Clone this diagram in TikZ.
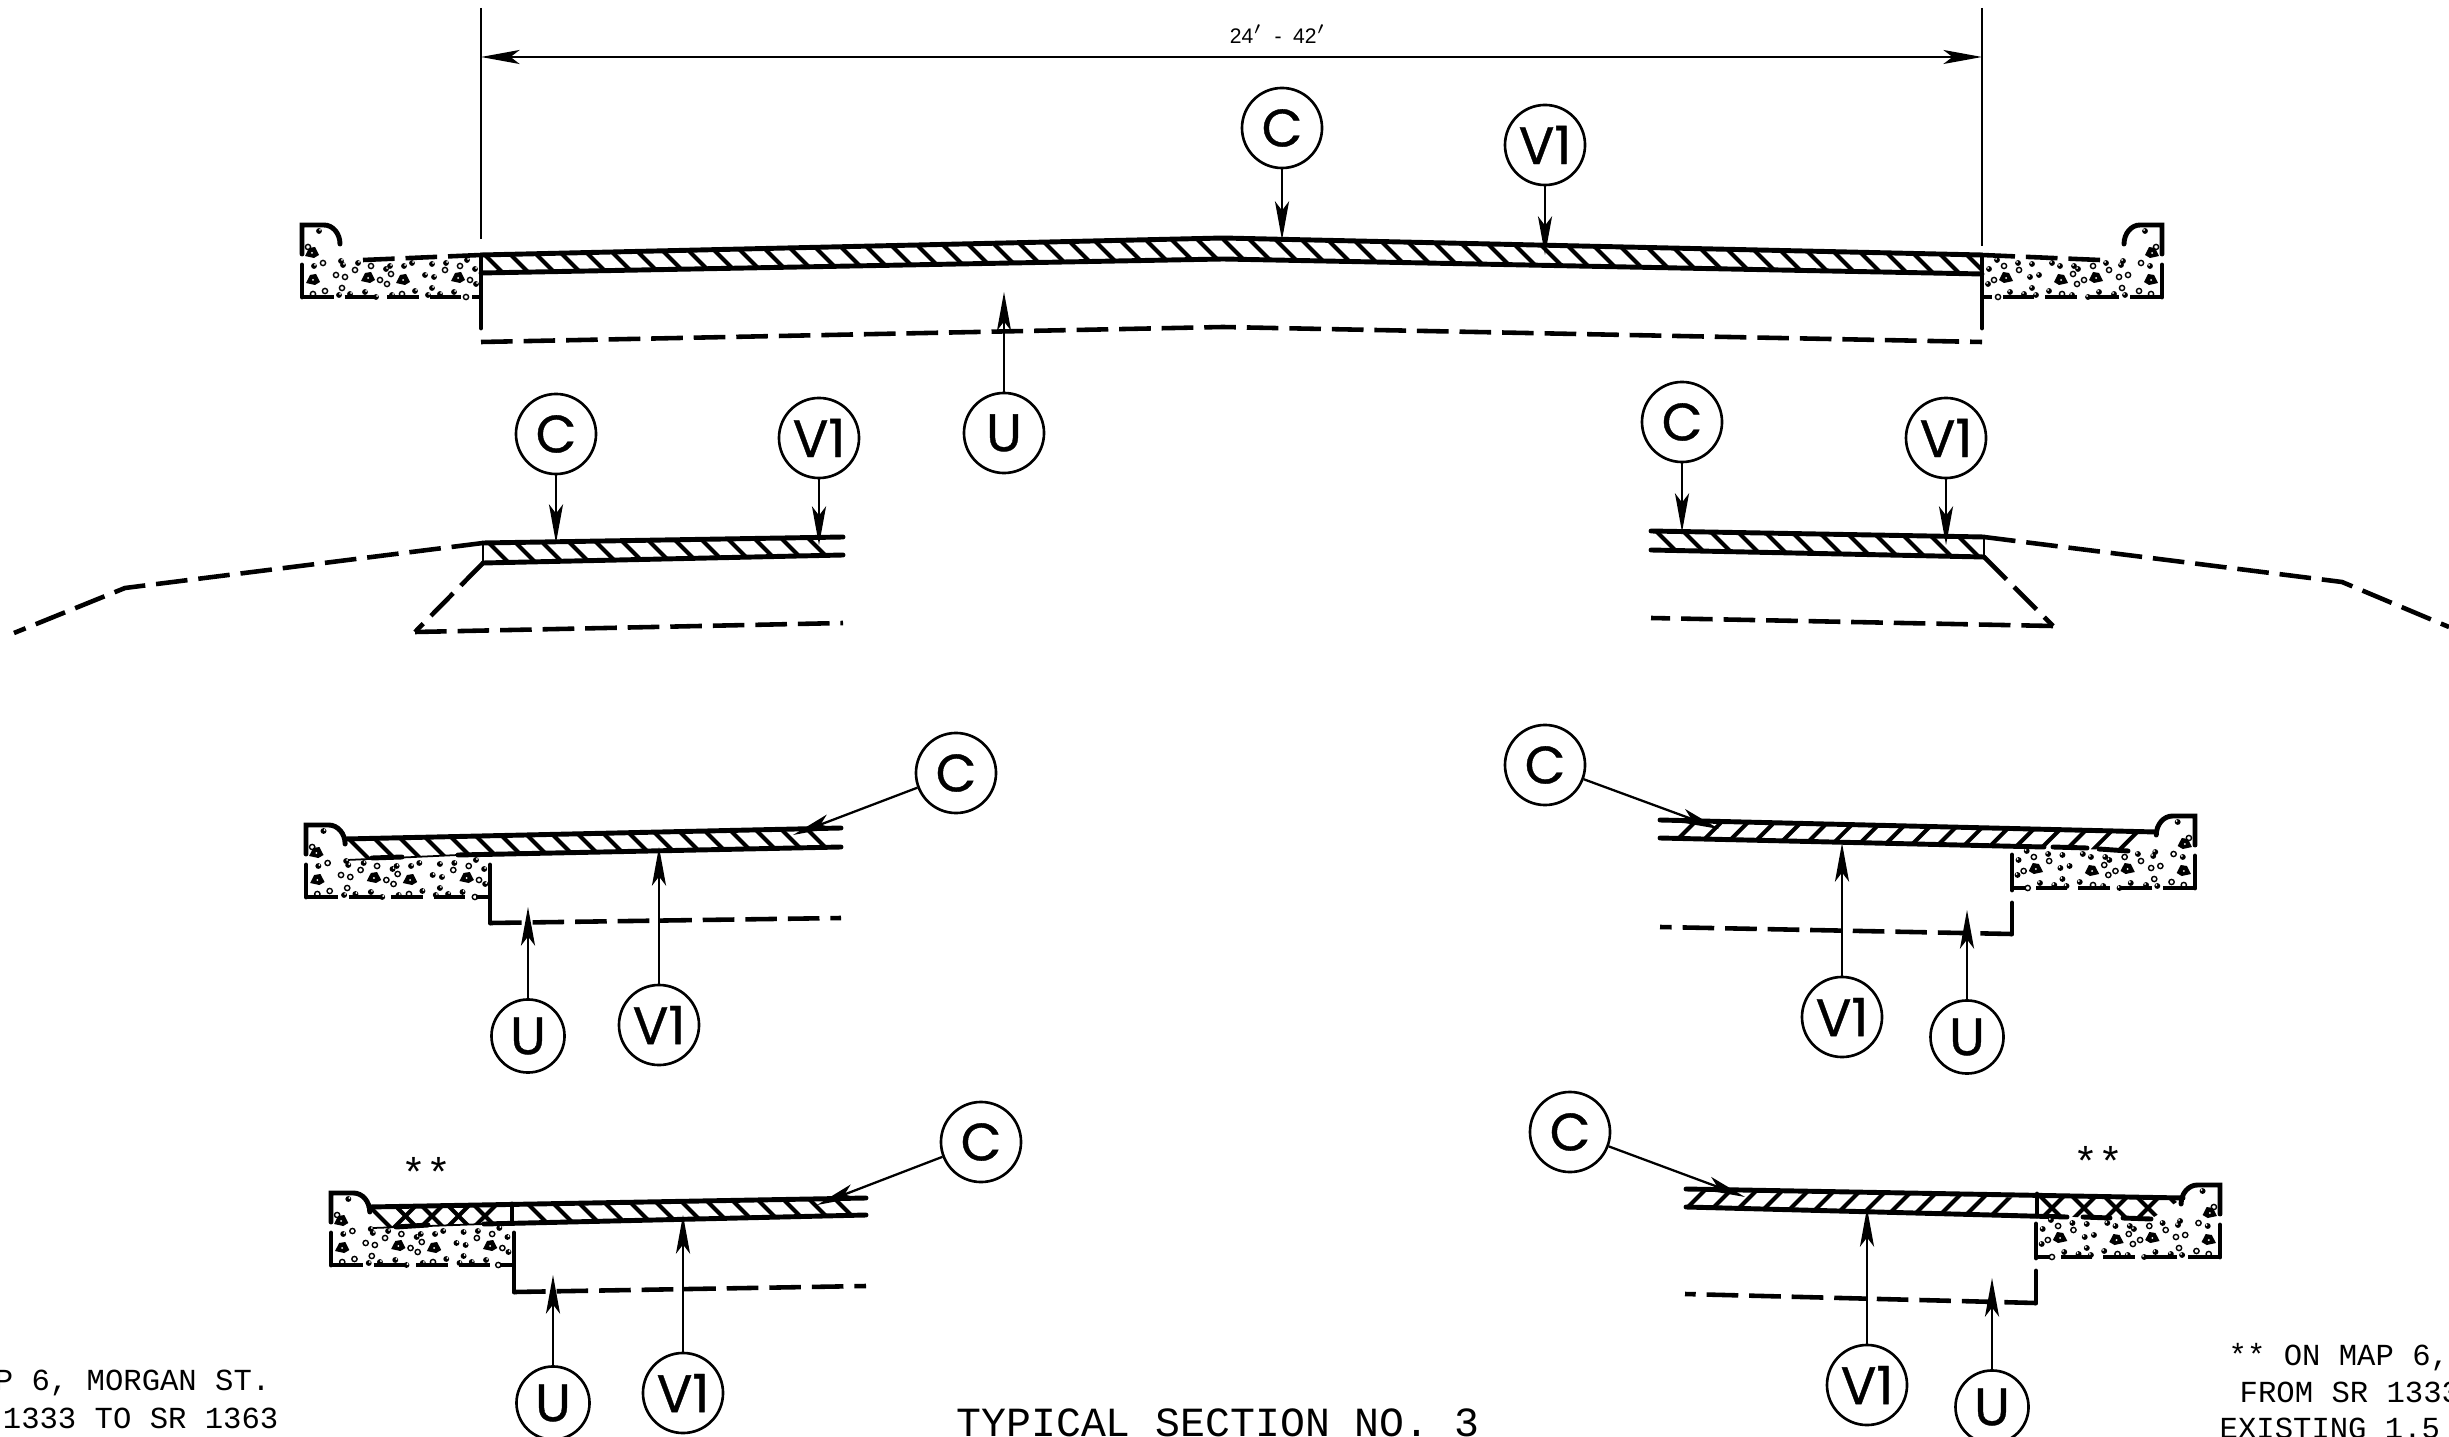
\documentclass[tikz,border=0pt]{standalone}
\usepackage{fontspec}
\setsansfont{Liberation Sans}
\setmonofont{Liberation Mono}
\newfontfamily\bubblefont[FakeBold=0.7]{Poppins}
\usetikzlibrary{arrows.meta}

\tikzset{
  bubble/.style={circle, draw, line width=0.75pt, fill=white, minimum size=0.8cm, inner sep=0pt, font=\bubblefont\fontsize{15}{15}\selectfont},
  ububble/.style={bubble, minimum size=0.73cm},
  leader/.style={-{Stealth[length=11pt,width=4pt,inset=2.6pt]}, line width=0.65pt},
  dimline/.style={{Stealth[length=11pt,width=4pt,inset=2.6pt]}-{Stealth[length=11pt,width=4pt,inset=2.6pt]}, line width=0.4pt},
  witness/.style={line width=0.5pt},
  slabline/.style={line width=1.4pt, line cap=round},
  thinline/.style={line width=0.5pt},
  subgrade/.style={line width=1.3pt, dash pattern=on 9pt off 3.1pt},
  hatchline/.style={line width=1.15pt},
  notetext/.style={inner sep=0pt, font=\ttfamily\fontsize{8.7}{10}\selectfont},
  bigtext/.style={inner sep=0pt, font=\ttfamily\fontsize{11.8}{13}\selectfont},
  curbbase/.pic={
    \draw[slabline] (0,-32) -- (0,0);
    \draw[slabline] (38,-53) arc (0:-90:16 and 19) -- (0,-72) -- (0,-43);
    \draw[subgrade] (0,0) -- (179,0);
    \foreach \px/\py in {21/-34,53/-27,69/-31,34/-22,43/-20,78/-17,85/-13,143/-27,158/-31,168/-17,23/-6,40/-9,100/-3,164/0,89/-23,11/-3,6/-50}
      \draw[line width=0.4pt] (\px,\py) circle (2.6);
    \foreach \px/\py in {17/-66,12/-31,39/-36,41/-32,56/-34,84/-28,88/-31,102/-31,110/-34,130/-33,144/-34,165/-37,173/-28,123/-22,132/-20,174/-13,37/-2,63/-5,48/-3,74/0,90/-2,113/-6,126/-2,138/-3,130/-9,152/-5} {
      \fill (\px,\py) circle (2.9);
      \fill[white] (\px+1,\py-1) circle (1);
    }
    \foreach \px/\py in {11/-17,66/-19,101/-17,156/-19,10/-44} {
      \fill (\px,\py) +(-7,3) -- +(-3,-5) -- +(3,-6) -- +(7,2) -- +(2,5) -- cycle;
      \fill[white] (\px,\py) circle (1);
    }
  }
}

\newcommand{\slabhatch}[6]{
  \begin{scope}
    \clip #1;
    \foreach \hx in {#2,#3,...,#4}
      \draw[hatchline] (\hx-#6*40,#5-40) -- (\hx+#6*40,#5+40);
  \end{scope}
}

\begin{document}
\begin{tikzpicture}[x=0.01cm, y=-0.01cm]
\useasboundingbox (0,0) rectangle (2449,1437);
\clip (0,0) rectangle (2449,1437);

\node[font=\sffamily\fontsize{6}{7}\selectfont, inner sep=0pt] at (1278, 34) (width) {24$'$\ \ -\ \ 42$'$};
\coordinate (dimleft) at (481, 57);
\coordinate (dimright) at (1982, 57);
\draw[witness] (481, 8) -- (481, 239);
\draw[witness] (1982, 8) -- (1982, 246);
\draw[dimline] (dimleft) -- (dimright);

% main lanes
\slabhatch{(481,255) -- (1223,238) -- (1982,255) -- (1982,274) -- (1223,259) -- (481,273) -- cycle}{487}{513}{1975}{257}{1}
\draw[slabline] (481,255) -- (1223,238) -- (1982,255);
\draw[slabline] (481,273) -- (1223,259) -- (1982,274);
\draw[slabline] (481,255) -- (481,328);
\draw[slabline] (1982,255) -- (1982,328);
\draw[subgrade] (481,342) -- (1223,327) -- (1982,342);
\pic at (302,297) {curbbase};
\pic[xscale=-1] at (2162,297) {curbbase};
\draw[subgrade] (363,260) -- (481,255);
\draw[subgrade] (2100,260) -- (1982,255);

\node[bubble] at (1282, 128) (c1) {C};
\node[bubble] at (1545, 145) (v1) {V1};
\node[bubble] at (1004, 433) (u1) {U};
\coordinate (c1tip) at (1282, 240);
\coordinate (v1tip) at (1545, 255);
\coordinate (u1tip) at (1004, 292);
\draw[leader] (c1) -- (c1tip);
\draw[leader] (v1) -- (v1tip);
\draw[leader] (u1) -- (u1tip);

% shoulders
\slabhatch{(483,543) -- (843,537) -- (843,555) -- (483,563) -- cycle}{491}{518}{825}{545}{1}
\draw[slabline] (843,537) -- (483,543);
\draw[slabline] (843,555) -- (483,563);
\draw[thinline] (483,543) -- (483,563);
\draw[subgrade] (483,543) -- (125,588) -- (14,633);
\draw[subgrade] (483,563) -- (415,632);
\draw[subgrade] (415,632) -- (843,623);
\node[bubble] at (556, 434) (c2) {C};
\node[bubble] at (819, 438) (v2) {V1};
\coordinate (c2tip) at (556, 543);
\coordinate (v2tip) at (819, 545);
\draw[leader] (c2) -- (c2tip);
\draw[leader] (v2) -- (v2tip);

\slabhatch{(1651,531) -- (1984,537) -- (1984,557) -- (1651,550) -- cycle}{1658}{1685}{1960}{533}{1}
\draw[slabline] (1651,531) -- (1984,537);
\draw[slabline] (1651,550) -- (1984,557);
\draw[thinline] (1984,537) -- (1984,557);
\draw[subgrade] (1984,537) -- (2342,582) -- (2449,627);
\draw[subgrade] (1984,557) -- (2053,626);
\draw[subgrade] (2053,626) -- (1651,618);
\node[bubble] at (1682, 422) (c3) {C};
\node[bubble] at (1946, 438) (v3) {V1};
\coordinate (c3tip) at (1682, 532);
\coordinate (v3tip) at (1946, 545);
\draw[leader] (c3) -- (c3tip);
\draw[leader] (v3) -- (v3tip);

% curb and gutter, left
\slabhatch{(345,839) -- (841,828) -- (841,847) -- (458,855) -- (347,860) -- cycle}{350}{376}{820}{840}{1}
\draw[slabline] (345,839) -- (841,828);
\draw[slabline] (841,847) -- (458,855);
\draw[thinline] (458,855) -- (347,860);
\draw[slabline] (372,858) -- (402,857);
\pic[xscale=1.03] at (306,897) {curbbase};
\draw[slabline] (490,865) -- (490,923);
\draw[subgrade] (490,923) -- (841,918);
\node[bubble] at (956, 773) (c4) {C};
\node[bubble] at (659, 1025) (v4) {V1};
\node[ububble] at (528, 1036) (u4) {U};
\coordinate (c4tip) at (793, 835);
\coordinate (v4tip) at (659, 847);
\coordinate (u4tip) at (528, 907);
\draw[leader] (c4) -- (c4tip);
\draw[leader] (v4) -- (v4tip);
\draw[leader] (u4) -- (u4tip);

% curb and gutter, right
\slabhatch{(1660,820) -- (2156,832) -- (2128,851) -- (2044,847) -- (1660,838) -- cycle}{1692}{1718.6}{2150}{825}{-1}
\draw[slabline] (1660,820) -- (2156,832);
\draw[slabline] (1660,838) -- (2044,847);
\draw[slabline] (2053,847) -- (2087,848);
\draw[slabline] (2099,849) -- (2128,851);
\pic[xscale=-1.02] at (2195,888) {curbbase};
\draw[slabline] (2012,855) -- (2012,890);
\draw[slabline] (2012,903) -- (2012,934);
\draw[subgrade] (2012,934) -- (1660,927);
\node[bubble] at (1545, 765) (c5) {C};
\node[bubble] at (1842, 1017) (v5) {V1};
\node[ububble] at (1967, 1037) (u5) {U};
\coordinate (c5tip) at (1719, 829);
\coordinate (v5tip) at (1842, 843);
\coordinate (u5tip) at (1967, 910);
\draw[leader] (c5) -- (c5tip);
\draw[leader] (v5) -- (v5tip);
\draw[leader] (u5) -- (u5tip);

% milled overlay, left
\slabhatch{(514,1204) -- (866,1198) -- (866,1215) -- (514,1223) -- cycle}{530}{556}{845}{1206}{1}
\slabhatch{(369,1207) -- (514,1204) -- (514,1223) -- (373,1228) -- cycle}{379}{405.5}{490}{1216}{1}
\slabhatch{(369,1207) -- (514,1204) -- (514,1223) -- (373,1228) -- cycle}{405.5}{432}{490}{1216}{-1}
\draw[slabline] (369,1207) -- (866,1198);
\draw[slabline] (866,1215) -- (484,1224);
\draw[thinline] (484,1224) -- (373,1228);
\draw[slabline] (396,1227) -- (428,1225);
\draw[slabline] (512,1204) -- (512,1223);
\pic[xscale=1.02] at (331,1265) {curbbase};
\draw[slabline] (514,1233) -- (514,1292);
\draw[subgrade] (514,1292) -- (866,1286);
\node[bubble] at (981, 1142) (c6) {C};
\node[bubble] at (683, 1393) (v6) {V1};
\node[ububble] at (553, 1403) (u6) {U};
\coordinate (c6tip) at (817, 1205);
\coordinate (v6tip) at (683, 1215);
\coordinate (u6tip) at (553, 1275);
\draw[leader] (c6) -- (c6tip);
\draw[leader] (v6) -- (v6tip);
\draw[leader] (u6) -- (u6tip);
\node[bigtext] at (426, 1172) (stars6) {**};

% milled overlay, right
\slabhatch{(1686,1189) -- (2037,1198) -- (2037,1216) -- (1686,1207) -- cycle}{1704}{1730}{2030}{1191}{-1}
\slabhatch{(2037,1198) -- (2183,1198) -- (2151,1219) -- (2037,1216) -- cycle}{2052}{2084}{2180}{1208}{1}
\slabhatch{(2037,1198) -- (2183,1198) -- (2151,1219) -- (2037,1216) -- cycle}{2052}{2084}{2180}{1208}{-1}
\draw[slabline] (1686,1189) -- (2183,1198);
\draw[slabline] (1686,1207) -- (2067,1217);
\draw[slabline] (2083,1217) -- (2110,1218);
\draw[slabline] (2123,1218) -- (2151,1219);
\draw[slabline] (2037,1194) -- (2037,1216);
\pic[xscale=-1.025] at (2220,1257) {curbbase};
\draw[slabline] (2036,1224) -- (2036,1258);
\draw[slabline] (2036,1271) -- (2036,1303);
\draw[subgrade] (2036,1303) -- (1685,1294);
\node[bubble] at (1570, 1132) (c7) {C};
\node[bubble] at (1867, 1385) (v7) {V1};
\node[ububble] at (1992, 1407) (u7) {U};
\coordinate (c7tip) at (1745, 1197);
\coordinate (v7tip) at (1867, 1208);
\coordinate (u7tip) at (1992, 1278);
\draw[leader] (c7) -- (c7tip);
\draw[leader] (v7) -- (v7tip);
\draw[leader] (u7) -- (u7tip);
\node[bigtext] at (2098, 1161) (stars7) {**};

\node[bigtext] at (1218, 1423) (title) {TYPICAL SECTION NO. 3};
\node[notetext, anchor=east] at (271, 1383) (leftnote) {P 6, MORGAN ST.};
\node[notetext, anchor=east] at (279, 1418) (leftnotetwo) {1333 TO SR 1363};
\node[notetext, anchor=west] at (2228, 1357) (rightnote) {** ON MAP 6,};
\node[notetext, anchor=west] at (2239, 1392) (rightnotetwo) {FROM SR 1333};
\node[notetext, anchor=west] at (2219, 1428) (rightnotethree) {EXISTING 1.5};
\end{tikzpicture}
\end{document}
